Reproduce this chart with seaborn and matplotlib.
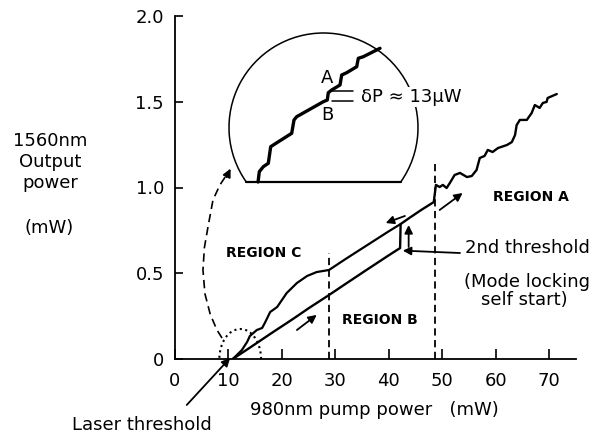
import matplotlib
matplotlib.use("Agg")
import matplotlib.pyplot as plt
import seaborn as sns
import numpy as np
from matplotlib.patches import Arc

# ---------------- data ----------------
# forward sweep (increasing pump power): regions B -> jump -> A
fwd_pump = [10.8, 14.0, 18.0, 22.0, 25.0, 28.8, 32.0, 36.0, 40.0, 42.1,
            42.2, 44.0, 46.0, 48.4,
            48.8, 49.5, 50.1, 50.8, 51.4, 52.3, 53.3, 54.6, 55.5, 56.4,
            57.0, 57.9, 58.5, 59.4, 60.4, 62.1, 63.0, 63.6, 63.9, 64.5,
            65.8, 66.7, 67.3, 68.2, 68.8, 69.5, 69.7, 71.4]
fwd_power = [0.0, 0.066, 0.15, 0.232, 0.296, 0.373, 0.44, 0.523, 0.605, 0.647,
             0.787, 0.826, 0.868, 0.915,
             1.015, 1.003, 1.015, 0.997, 1.026, 1.073, 1.085, 1.061, 1.067, 1.102,
             1.172, 1.184, 1.219, 1.207, 1.230, 1.248, 1.265, 1.306, 1.364, 1.394,
             1.394, 1.434, 1.481, 1.464, 1.493, 1.499, 1.522, 1.545]

# backward sweep (decreasing pump power): region C
bwd_pump = [42.2, 40.0, 36.0, 32.0, 28.8, 26.5, 24.7, 22.8, 20.9, 19.1,
            17.8, 16.8, 16.3, 15.3, 14.0, 13.5, 12.5, 11.2, 10.8]
bwd_power = [0.787, 0.745, 0.665, 0.585, 0.519, 0.507, 0.484, 0.443, 0.385, 0.303,
             0.274, 0.210, 0.181, 0.169, 0.134, 0.100, 0.052, 0.012, 0.0]

# inset: magnified staircase (arbitrary units)
inset_u = [-65.5, -65.2, -64.2, -60.2, -55.2, -52.8, -50.2, -31.8, -29.5, -26.8,
           -0.2, 3.8, 4.8, 8.2, 16.5, 18.2, 23.2, 33.2, 34.8, 39.8, 56.5]
inset_v = [-54.5, -52.5, -44.2, -39.2, -35.8, -19.2, -17.5, -5.8, 7.5, 10.8,
           25.8, 27.5, 34.8, 37.5, 42.5, 52.5, 54.8, 60.8, 69.2, 70.8, 79.2]

x_ticks = [0, 10, 20, 30, 40, 50, 60, 70]
y_ticks = [0, 0.5, 1.0, 1.5, 2.0]
y_ticklabels = ["0", "0.5", "1.0", "1.5", "2.0"]

region_b_edge = 28.8
region_a_edge = 48.6

# ---------------- style ----------------
sns.set_theme(style="ticks")
plt.rcParams['font.family'] = ['DejaVu Sans']
plt.rcParams['text.color'] = 'black'

W, H = 593, 441
fig = plt.figure(figsize=(W / 100, H / 100), dpi=100)
fig.patch.set_facecolor('white')


def fx(px):
    return px / W


def fy(py):
    return 1 - py / H


ax = fig.add_axes([fx(175), fy(359), (576 - 175) / W, (359 - 16) / H])
ax.set_facecolor('white')
ax.set_xlim(0, 75)
ax.set_ylim(0, 2.0)

sns.lineplot(x=fwd_pump, y=fwd_power, sort=False, estimator=None, ax=ax,
             color='black', lw=1.7)
sns.lineplot(x=bwd_pump, y=bwd_power, sort=False, estimator=None, ax=ax,
             color='black', lw=1.6)

for s in ['top', 'right']:
    ax.spines[s].set_visible(False)
for s in ['left', 'bottom']:
    ax.spines[s].set_linewidth(1.3)
    ax.spines[s].set_color('black')

ax.set_xticks(x_ticks)
ax.set_xticklabels([str(t) for t in x_ticks])
ax.set_yticks(y_ticks)
ax.set_yticklabels(y_ticklabels)
ax.tick_params(axis='x', direction='in', length=7, width=1.2, labelsize=13,
               pad=9, colors='black')
ax.tick_params(axis='y', direction='in', length=6, width=1.2, labelsize=13,
               pad=8, colors='black')
ax.set_xlabel("")
ax.set_ylabel("")

# dashed region boundaries
ax.plot([region_b_edge, region_b_edge], [0, 0.62], color='black', lw=1.3,
        ls=(0, (4, 2.5)))
ax.plot([region_a_edge, region_a_edge], [0, 1.15], color='black', lw=1.3,
        ls=(0, (4, 2.5)))

# dotted circle around threshold
ax.add_patch(Arc((12.2, 0.0), 7.8, 0.35, theta1=0, theta2=180, ls=':',
                 lw=1.5, color='black', clip_on=False))

# dashed curve leading to inset
dpx = [8.8, 7.85, 6.6, 5.6, 5.23, 5.5, 6.17, 7.1, 8.4, 10.0]
dpy = [0.122, 0.169, 0.26, 0.38, 0.519, 0.65, 0.770, 0.927, 1.015, 1.09]
ax.plot(dpx, dpy, color='black', lw=1.2, ls=(0, (5, 3)), clip_on=False)
arrow_kw = dict(arrowstyle='-|>', lw=1.3, color='black', mutation_scale=12,
                shrinkA=0, shrinkB=0)
ax.annotate("", xy=(10.4, 1.11), xytext=(9.6, 1.06), arrowprops=arrow_kw,
            annotation_clip=False)

# sweep direction arrows
ax.annotate("", xy=(26.5, 0.257), xytext=(22.8, 0.169), arrowprops=arrow_kw)
ax.annotate("", xy=(39.4, 0.793), xytext=(43.0, 0.834), arrowprops=arrow_kw)
ax.annotate("", xy=(53.8, 0.968), xytext=(49.5, 0.869), arrowprops=arrow_kw)
ax.annotate("", xy=(43.7, 0.781), xytext=(43.7, 0.653), arrowprops=arrow_kw)
ax.annotate("", xy=(42.6, 0.632), xytext=(53.3, 0.618), arrowprops=arrow_kw)
ax.annotate("", xy=(10.3, 0.006), xytext=(2.2, -0.268), arrowprops=arrow_kw,
            annotation_clip=False)

# labels
ax.text(16.6, 0.618, "REGION C", fontsize=10, fontweight='bold',
        ha='center', va='center')
ax.text(38.3, 0.227, "REGION B", fontsize=10, fontweight='bold',
        ha='center', va='center')
ax.text(66.5, 0.945, "REGION A", fontsize=10, fontweight='bold',
        ha='center', va='center')
ax.text(54.2, 0.647, "2nd threshold", fontsize=13, ha='left', va='center')
ax.text(65.8, 0.45, "(Mode locking", fontsize=13, ha='center', va='center',
        clip_on=False)
ax.text(65.3, 0.345, "self start)", fontsize=13, ha='center', va='center',
        clip_on=False)

fig.text(fx(374), fy(410), "980nm pump power   (mW)", fontsize=13,
         ha='center', va='center')
fig.text(fx(142), fy(425), "Laser threshold", fontsize=13,
         ha='center', va='center')
fig.text(fx(50), fy(162), "1560nm\nOutput\npower", fontsize=13,
         ha='center', va='center', linespacing=1.2)
fig.text(fx(49), fy(228), "(mW)", fontsize=13, ha='center', va='center')

# ---------------- inset ----------------
ax_in = fig.add_axes([fx(229), fy(182), 189 / W, 149 / H])
ax_in.set_xlim(-94.5, 94.5)
ax_in.set_ylim(-54.5, 94.5)
ax_in.axis('off')
ax_in.add_patch(Arc((0, 0), 189, 189, theta1=-35.2, theta2=215.2, lw=1.1,
                    color='black', clip_on=False))
ax_in.plot([-77.2, 77.2], [-54.5, -54.5], color='black', lw=1.6,
           clip_on=False)
sns.lineplot(x=inset_u, y=inset_v, sort=False, estimator=None, ax=ax_in,
             color='black', lw=2.4)
for sp in ax_in.lines[-1:]:
    sp.set_clip_on(False)
ax_in.plot([8.5, 29.5], [36.5, 36.5], color='black', lw=1.1)
ax_in.plot([8.5, 29.5], [26.5, 26.5], color='black', lw=1.1)
ax_in.text(3.5, 49.5, "A", fontsize=13, ha='center', va='center')
ax_in.text(3.5, 12.5, "B", fontsize=13, ha='center', va='center')
ax_in.text(87.5, 30.5, "δP ≈ 13μW", fontsize=13, ha='center', va='center',
           clip_on=False, zorder=5,
           bbox=dict(facecolor='white', edgecolor='none', pad=1))

fig.savefig("out.png", dpi=100, facecolor='white')
